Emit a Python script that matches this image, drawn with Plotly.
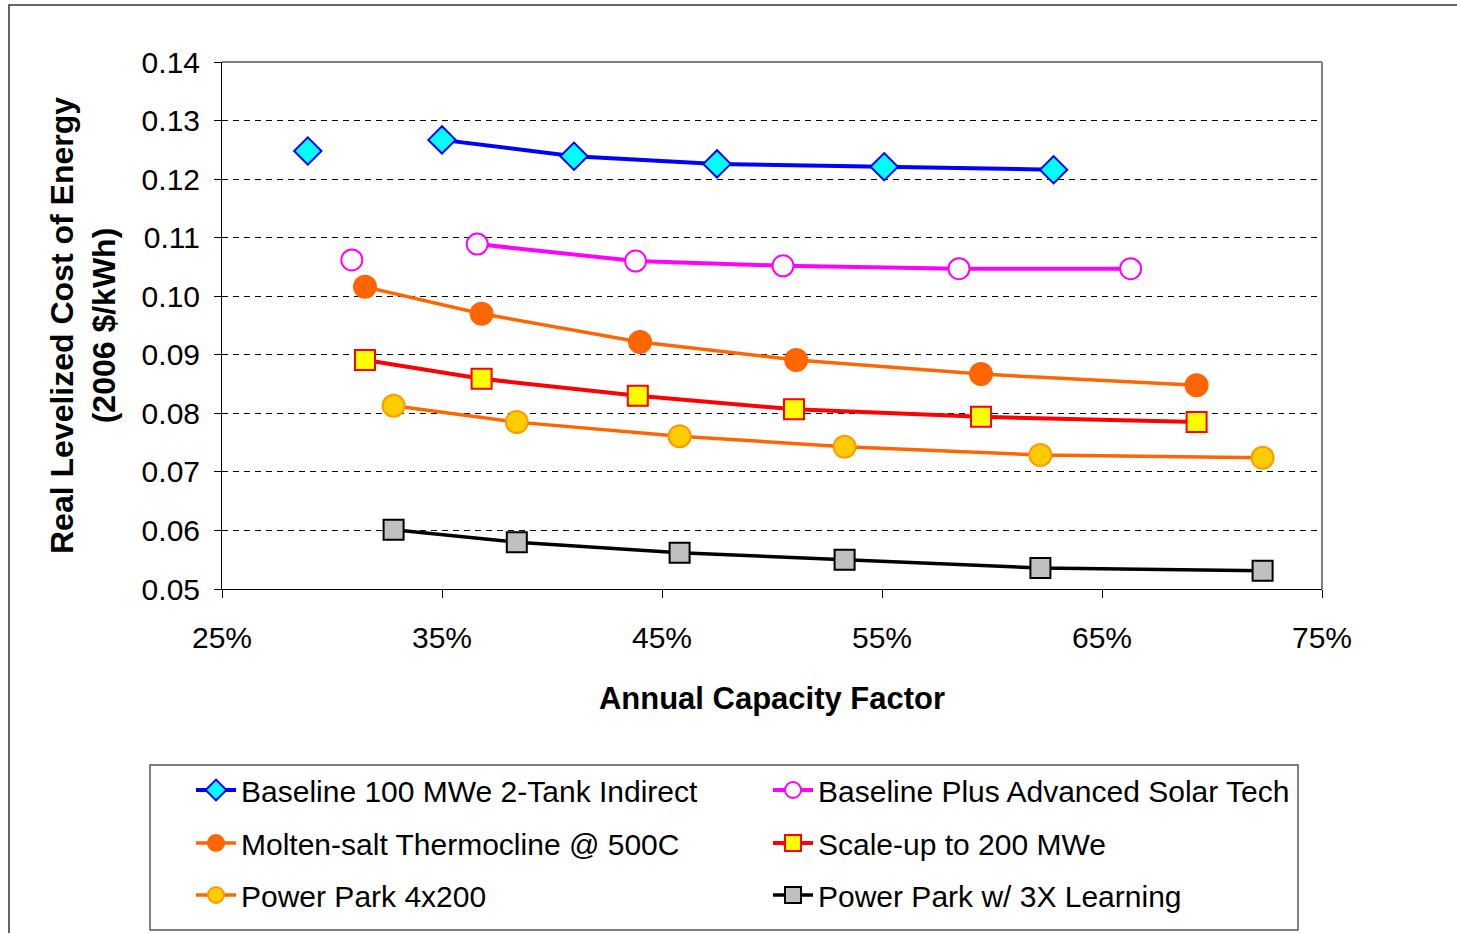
import plotly.graph_objects as go

# ---- data (capacity factor as fraction, LCOE in 2006 $/kWh) ----
base_x = [0.289, 0.350, 0.410, 0.475, 0.551, 0.628]
base_y = [0.1248, 0.1267, 0.1239, 0.1226, 0.1221, 0.1216]

adv_x = [0.309, 0.366, 0.438, 0.505, 0.585, 0.663]
adv_y = [0.1062, 0.1089, 0.1060, 0.1052, 0.1047, 0.1047]

thermo_x = [0.315, 0.368, 0.440, 0.511, 0.595, 0.693]
thermo_y = [0.1016, 0.0970, 0.0922, 0.0891, 0.0867, 0.0848]

scale_x = [0.315, 0.368, 0.439, 0.510, 0.595, 0.693]
scale_y = [0.0891, 0.0859, 0.0830, 0.0807, 0.0794, 0.0785]

park_x = [0.328, 0.384, 0.458, 0.533, 0.622, 0.723]
park_y = [0.0813, 0.0785, 0.0761, 0.0743, 0.0729, 0.0724]

learn_x = [0.328, 0.384, 0.458, 0.533, 0.622, 0.723]
learn_y = [0.0601, 0.0580, 0.0562, 0.0550, 0.0536, 0.0531]

names = ["Baseline 100 MWe 2-Tank Indirect", "Baseline Plus Advanced Solar Tech",
         "Molten-salt Thermocline @ 500C", "Scale-up to 200 MWe",
         "Power Park 4x200", "Power Park w/ 3X Learning"]

x_ticks = [0.25, 0.35, 0.45, 0.55, 0.65, 0.75]
y_ticks = [0.05, 0.06, 0.07, 0.08, 0.09, 0.10, 0.11, 0.12, 0.13, 0.14]

FONT = "Liberation Sans, Arial, sans-serif"

fig = go.Figure()

def add_series(xs, ys, name, legend, line_color, lw, symbol, fill, edge, size, lone_first=False):
    if lone_first:
        fig.add_trace(go.Scatter(x=xs[:1], y=ys[:1], mode="markers", showlegend=False,
                                 marker=dict(symbol=symbol, size=size, color=fill,
                                             line=dict(color=edge, width=2)),
                                 hoverinfo="x+y"))
        xs, ys = xs[1:], ys[1:]
    fig.add_trace(go.Scatter(x=xs, y=ys, mode="lines+markers", name=name, legend=legend,
                             line=dict(color=line_color, width=lw),
                             marker=dict(symbol=symbol, size=size, color=fill,
                                         line=dict(color=edge, width=2))))

add_series(base_x, base_y, names[0], "legend", "#0000FF", 4, "diamond", "#00FFFF", "#0000FF", 21, True)
add_series(adv_x, adv_y, names[1], "legend2", "#FF00FF", 4, "circle", "#FFFFFF", "#FF00FF", 21, True)
add_series(thermo_x, thermo_y, names[2], "legend3", "#FF6600", 3.5, "circle", "#FF6600", "#FF6600", 22)
add_series(scale_x, scale_y, names[3], "legend4", "#FF0000", 4, "square", "#FFFF00", "#FF0000", 20)
add_series(park_x, park_y, names[4], "legend5", "#FF6600", 3.5, "circle", "#FFCC00", "#FF9900", 22)
add_series(learn_x, learn_y, names[5], "legend6", "#000000", 3.5, "square", "#C0C0C0", "#000000", 20)

L, R, T, B = 222, 1457 - 1322, 62, 933 - 589
PW, PH = 1100, 527

def px(xp):
    return (xp - L) / PW

def py(yp):
    return (589 - yp) / PH

legend_common = dict(bgcolor="rgba(0,0,0,0)", borderwidth=0, xanchor="left", yanchor="middle",
                     font=dict(family=FONT, size=30, color="#000000"), itemwidth=40)
rows = [790, 843, 895]
cols = [191, 768]
legends = {}
keys = ["legend", "legend2", "legend3", "legend4", "legend5", "legend6"]
for i, k in enumerate(keys):
    legends[k] = dict(legend_common, x=px(cols[i % 2]), y=py(rows[i // 2]))

fig.update_layout(
    width=1457, height=933,
    margin=dict(l=L, r=R, t=T, b=B, autoexpand=False),
    paper_bgcolor="#FFFFFF", plot_bgcolor="#FFFFFF",
    font=dict(family=FONT, size=30, color="#000000"),
    **legends,
    xaxis=dict(range=[0.25, 0.75], tickvals=x_ticks, tickformat=".0%",
               showgrid=False, zeroline=False, showline=True, linecolor="#000000", linewidth=1,
               ticks="outside", ticklen=8, tickcolor="#000000",
               tickfont=dict(family=FONT, size=30), ticklabelstandoff=14,
               title=dict(text="<b>Annual Capacity Factor</b>", font=dict(family=FONT, size=31),
                          standoff=34),
               automargin=False),
    yaxis=dict(range=[0.05, 0.14], tickvals=y_ticks, tickformat=".2f",
               showgrid=True, gridcolor="#000000", gridwidth=1, griddash="6px,5px",
               zeroline=False, showline=True, linecolor="#000000", linewidth=1,
               ticks="outside", ticklen=7, tickcolor="#000000",
               tickfont=dict(family=FONT, size=30), ticklabelstandoff=8,
               title=dict(text="<b>Real Levelized Cost of Energy<br>(2006 $/kWh)</b>",
                          font=dict(family=FONT, size=32), standoff=16),
               automargin=False),
    shapes=[
        # top and right frame of plot area (gray)
        dict(type="line", xref="paper", yref="paper", x0=0, x1=1, y0=1, y1=1,
             line=dict(color="#808080", width=2)),
        dict(type="line", xref="paper", yref="paper", x0=1, x1=1, y0=0, y1=1,
             line=dict(color="#808080", width=2)),
        # legend box
        dict(type="rect", xref="paper", yref="paper", x0=px(150), x1=px(1298),
             y0=py(930), y1=py(765), line=dict(color="#555555", width=1.5)),
        # outer chart border
        dict(type="rect", xref="paper", yref="paper", x0=px(9), x1=px(1470),
             y0=py(945), y1=py(5), line=dict(color="#333333", width=1.5)),
    ],
)

fig.write_html("out.html")
